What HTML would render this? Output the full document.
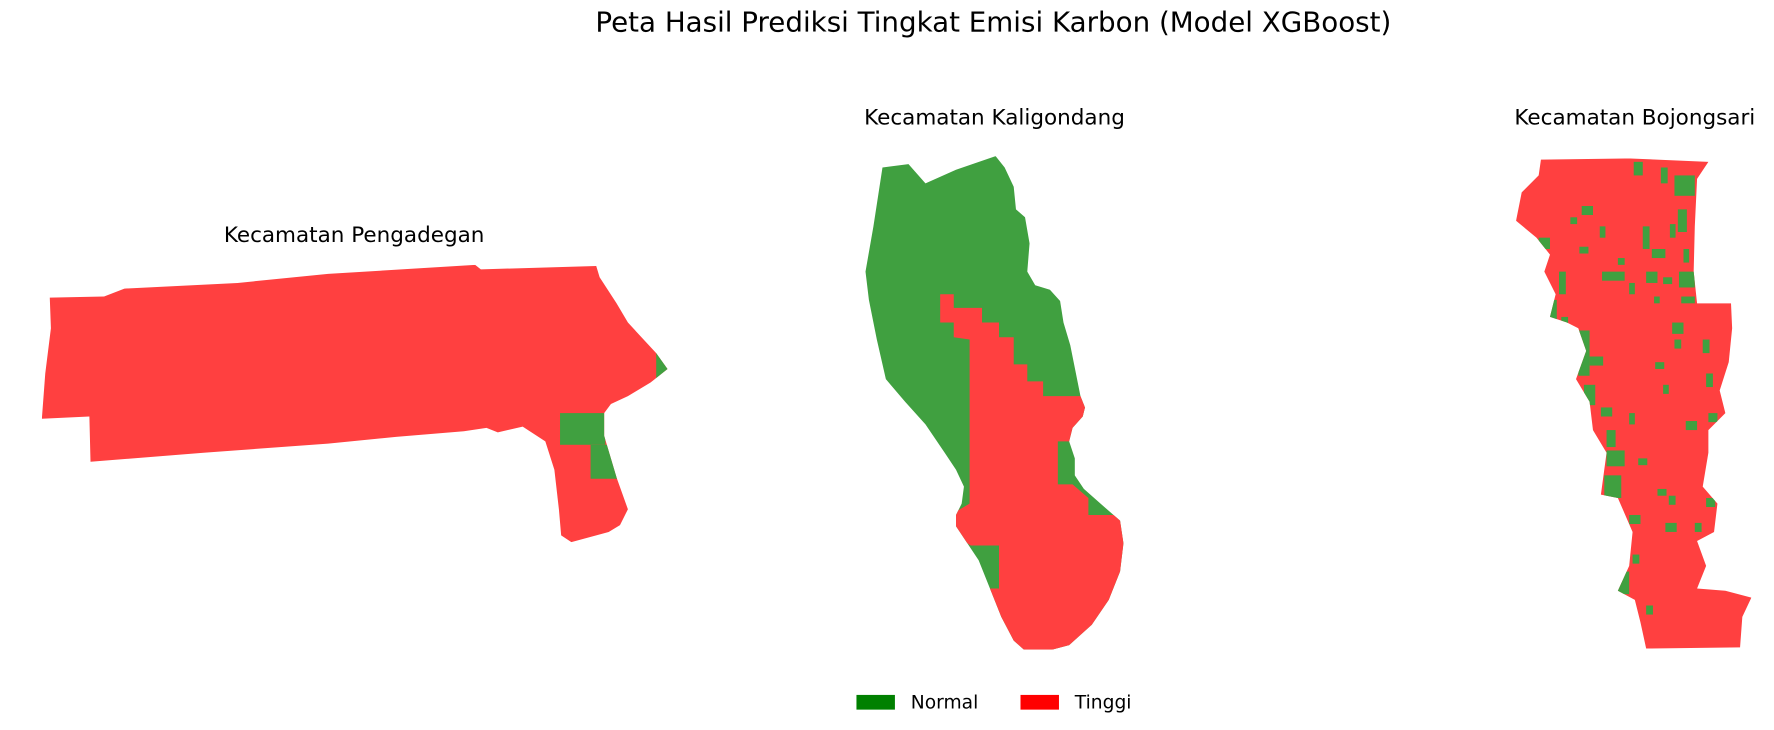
<!DOCTYPE html>
<html><head><meta charset="utf-8"><style>
html,body{margin:0;padding:0;background:#fff}
svg{display:block}
text{font-family:"DejaVu Sans","Liberation Sans",sans-serif;fill:#000}
</style></head><body>
<svg id="map" width="1774" height="730" viewBox="0 0 1568 645" preserveAspectRatio="none">
<text x="878" y="28" font-size="24.5" text-anchor="middle">Peta Hasil Prediksi Tingkat Emisi Karbon (Model XGBoost)</text>
<text x="313" y="214" font-size="19" text-anchor="middle">Kecamatan Pengadegan</text>
<text x="879" y="110" font-size="19" text-anchor="middle">Kecamatan Kaligondang</text>
<text x="1445" y="110" font-size="19" text-anchor="middle">Kecamatan Bojongsari</text>
<defs>
<clipPath id="cpP"><polygon id="pP"/></clipPath>
<clipPath id="cpK"><polygon id="pK"/></clipPath>
<clipPath id="cpB"><polygon id="pB"/></clipPath>
</defs>
<g id="gP" clip-path="url(#cpP)"></g>
<g id="gK" clip-path="url(#cpK)"></g>
<g id="gB" clip-path="url(#cpB)"></g>
<g>
<rect x="757" y="614" width="34" height="13" fill="#008000"/>
<text x="805" y="626" font-size="16.5">Normal</text>
<rect x="902" y="614" width="34" height="13" fill="#ff0000"/>
<text x="950" y="626" font-size="16.5">Tinggi</text>
</g>
</svg>
<script>
const RED="#ff4040", GREEN="#40a040";
const pengadeganOutline=[[44,263],[92,262],[110,255],[210,250],[290,242],[420,234],[425,238],[527,235],[530,245],[545,268],[555,285],[580,312],[590,326],[575,338],[555,350],[540,357],[534,365],[534,385],[545,422],[555,450],[548,464],[538,470],[505,479],[496,473],[494,450],[490,415],[482,390],[462,377],[440,382],[430,378],[410,381],[350,386],[290,392],[180,400],[80,408],[79,368],[37,370],[40,330],[45,290]];
const pengadeganGreen=[[580,305,15,40],[495,365,40,28],[522,393,30,30]];
const kaligondangOutline=[[780,148],[803,145],[818,162],[845,150],[880,138],[888,148],[896,165],[898,185],[906,192],[910,215],[908,240],[915,252],[928,256],[937,266],[940,285],[946,305],[951,330],[955,350],[959,360],[957,368],[948,378],[945,390],[950,405],[950,420],[958,432],[975,447],[990,460],[993,480],[990,505],[980,530],[965,552],[945,570],[930,574],[905,574],[896,566],[885,545],[875,520],[865,495],[855,480],[845,465],[845,455],[850,445],[852,430],[845,415],[835,400],[818,375],[800,355],[783,335],[775,300],[768,265],[765,240],[772,200]];
const kaligondangRed=[[831,260],[843,260],[843,272],[868,272],[868,285],[883,285],[883,298],[896,298],[896,322],[908,322],[908,337],[922,337],[922,350],[970,350],[970,390],[935,390],[935,428],[948,428],[962,440],[962,455],[1000,455],[1000,580],[880,580],[870,520],[883,520],[883,482],[858,482],[840,470],[840,455],[857,445],[857,300],[843,298],[843,285],[831,285]];
const bojongsariOutline=[[1362,141],[1440,140],[1510,143],[1500,158],[1498,200],[1497,240],[1500,268],[1530,268],[1531,290],[1528,320],[1520,345],[1525,365],[1510,380],[1510,400],[1505,430],[1518,445],[1515,470],[1500,478],[1508,500],[1500,520],[1525,522],[1548,528],[1540,545],[1538,572],[1455,573],[1450,550],[1445,530],[1430,522],[1440,500],[1443,470],[1430,440],[1415,437],[1420,400],[1408,380],[1405,355],[1393,335],[1402,310],[1395,290],[1385,285],[1370,280],[1375,260],[1365,240],[1370,225],[1358,210],[1340,195],[1345,170],[1360,155]];
const bojongsariGreen=[[1480,155,18,18],[1444,143,8,12],[1468,148,6,14],[1483,185,8,20],[1398,182,10,8],[1388,192,6,6],[1414,200,5,10],[1452,200,6,20],[1476,198,5,12],[1360,210,10,10],[1396,218,8,6],[1430,228,6,6],[1460,220,12,8],[1488,220,5,12],[1378,240,6,20],[1416,240,20,8],[1440,250,5,10],[1455,240,10,10],[1470,245,8,6],[1484,240,14,14],[1462,262,5,6],[1486,262,12,6],[1368,265,8,20],[1380,280,6,8],[1478,285,10,10],[1395,292,10,40],[1480,300,6,8],[1505,300,6,12],[1405,315,12,8],[1463,320,8,6],[1508,330,6,12],[1400,340,10,18],[1470,340,5,8],[1415,360,10,8],[1440,365,5,10],[1490,372,10,8],[1510,365,8,8],[1420,380,8,15],[1420,398,16,14],[1448,405,8,6],[1418,420,15,20],[1465,432,8,6],[1475,438,6,8],[1508,440,8,8],[1440,455,10,8],[1472,462,10,8],[1498,462,6,8],[1443,490,6,8],[1428,505,12,20],[1455,535,6,8]];
function pts(a){return a.map(p=>p.join(",")).join(" ");}
const svgNS="http://www.w3.org/2000/svg";
function rect(g,x,y,w,h,fill,name){const r=document.createElementNS(svgNS,"rect");r.setAttribute("x",x);r.setAttribute("y",y);r.setAttribute("width",w);r.setAttribute("height",h);r.setAttribute("fill",fill);


g.appendChild(r);}
function poly(g,a,fill,name){const p=document.createElementNS(svgNS,"polygon");p.setAttribute("points",pts(a));p.setAttribute("fill",fill);


g.appendChild(p);}
document.getElementById("pP").setAttribute("points",pts(pengadeganOutline));
document.getElementById("pK").setAttribute("points",pts(kaligondangOutline));
document.getElementById("pB").setAttribute("points",pts(bojongsariOutline));
const gP=document.getElementById("gP"),gK=document.getElementById("gK"),gB=document.getElementById("gB");
rect(gP,0,200,620,300,RED,"pengadegan-tinggi-area");
pengadeganGreen.forEach(c=>rect(gP,c[0],c[1],c[2],c[3],GREEN,"pengadegan-normal-cell"));
rect(gK,740,120,280,480,GREEN,"kaligondang-normal-area");
poly(gK,kaligondangRed,RED,"kaligondang-tinggi-area");
rect(gB,1320,120,250,480,RED,"bojongsari-tinggi-area");
bojongsariGreen.forEach(c=>rect(gB,c[0],c[1],c[2],c[3],GREEN,"bojongsari-normal-cell"));
</script>
</body></html>
